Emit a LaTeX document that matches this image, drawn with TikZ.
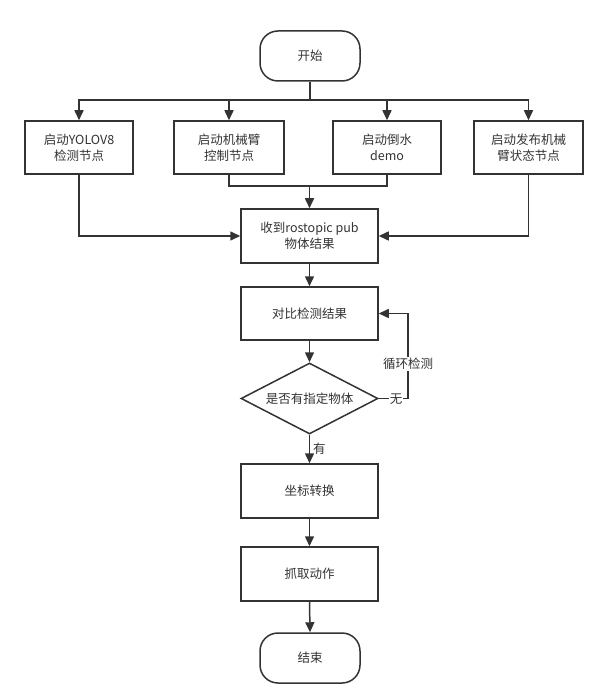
\documentclass[tikz,border=0pt]{standalone}
\usepackage{fontspec}
\setmainfont{Noto Sans CJK SC}
\usetikzlibrary{arrows.meta,shapes.geometric}
\definecolor{lc}{HTML}{333333}
\definecolor{tc}{HTML}{333333}
\begin{document}
\begin{tikzpicture}[x=1pt,y=-1pt,
  every node/.style={font=\fontsize{12.5}{16}\selectfont, text=tc},
  box/.style={draw=lc, line width=1.5pt, minimum width=137pt, minimum height=54pt, align=center, inner sep=0pt},
  sbox/.style={box, minimum width=108pt, minimum height=53pt},
  term/.style={box, rounded corners=18pt, minimum width=100pt, minimum height=50pt},
  dec/.style={draw=lc, line width=1.5pt, shape=diamond, aspect=1.93, minimum width=137pt, minimum height=71pt, inner sep=0pt},
  ln/.style={draw=lc, line width=1.5pt},
  arr/.style={ln, -{Triangle[length=10pt,width=9pt]}},
  lbl/.style={fill=white, inner sep=1pt}
]
\useasboundingbox (0,0) rectangle (603,692);
\node[term] (start) at (310,56) {开始};
\node[sbox] (b1) at (79,147.5) {启动YOLOV8\\检测节点};
\node[sbox, minimum width=110pt] (b2) at (229,147.5) {启动机械臂\\控制节点};
\node[sbox] (b3) at (387,147.5) {启动倒水\\demo};
\node[sbox, minimum width=109pt] (b4) at (528.5,147.5) {启动发布机械\\臂状态节点};
\node[box] (recv) at (309.5,236) {收到rostopic pub\\物体结果};
\node[box, minimum height=53pt] (cmp) at (309.5,313.5) {对比检测结果};
\node[dec] (dec) at (309.5,398.5) {是否有指定物体};
\node[box] (conv) at (309.5,491) {坐标转换};
\node[box] (grab) at (309.5,574) {抓取动作};
\node[term] (end) at (310,658) {结束};

\coordinate (bus) at (310,100);
\draw[ln] (start.south) -- (bus);
\draw[arr] (bus) -| (b1.north);
\draw[arr] (bus) -| (b2.north);
\draw[arr] (bus) -| (b3.north);
\draw[arr] (bus) -| (b4.north);

\coordinate (j) at (309.5,186);
\draw[ln] (b2.south) |- (j) -| (b3.south);
\draw[arr] (j) -- (recv.north);
\draw[arr] (b1.south) |- (recv.west);
\draw[arr] (b4.south) |- (recv.east);

\draw[arr] (recv.south) -- (cmp.north);
\draw[arr] (cmp.south) -- (dec.north);
\coordinate (lp) at (408,398.5);
\draw[ln] (dec.east) -- (lp);
\draw[arr] (lp) |- (cmp.east);
\node[lbl] (wu) at (396,399) {无};
\node[lbl] (xh) at (408,364) {循环检测};
\draw[arr] (dec.south) -- (conv.north);
\node[anchor=west, inner sep=0pt] (you) at (313,449) {有};
\draw[arr] (conv.south) -- (grab.north);
\draw[arr] (grab.south) -- (end.north);
\end{tikzpicture}
\end{document}
